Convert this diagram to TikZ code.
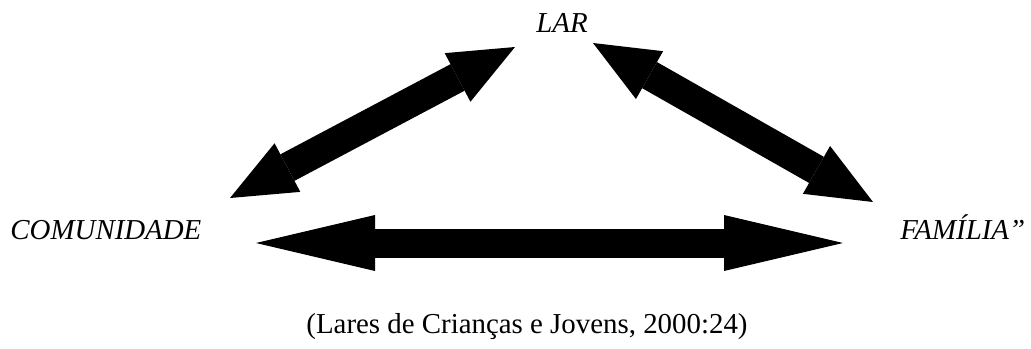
\documentclass[tikz,border=0pt]{standalone}
\usepackage{fontspec}
\setmainfont{Liberation Serif}
\usetikzlibrary{arrows.meta}

\begin{document}
\begin{tikzpicture}[x=0.0146cm,y=-0.0146cm]
\tikzset{word/.style = {font=\fontsize{12}{14}\selectfont\itshape, inner sep=0pt}}
\tikzset{link/.style = {line width=30*0.0146cm,
  {Triangle[length=65*0.0146cm,width=55*0.0146cm,line width=0pt]}-{Triangle[length=65*0.0146cm,width=55*0.0146cm,line width=0pt]}}}
\tikzset{longlink/.style = {line width=29*0.0146cm,
  {Triangle[length=119*0.0146cm,width=56*0.0146cm,line width=0pt]}-{Triangle[length=119*0.0146cm,width=56*0.0146cm,line width=0pt]}}}
\useasboundingbox (0,0) rectangle (1031,348);

\node[word, anchor=base] (lar) at (562,32) {LAR};
\node[word, anchor=base west] (com) at (10,239) {COMUNIDADE};
\node[word, anchor=base west] (fam) at (900,239) {FAMÍLIA”};
\node[word, font=\fontsize{12}{14}\selectfont, anchor=base] (src) at (527,333) {(Lares de Crianças e Jovens, 2000:24)};

%ends
\coordinate (com1) at (230,198);
\coordinate (lar1) at (515,47);
\coordinate (lar2) at (593,43);
\coordinate (fam1) at (873,202);
\coordinate (com2) at (256,243);
\coordinate (fam2) at (843,243);

%arrows
\draw[link] (com1) -- (lar1);
\draw[link] (lar2) -- (fam1);
\draw[longlink] (com2) -- (fam2);

\end{tikzpicture}
\end{document}
